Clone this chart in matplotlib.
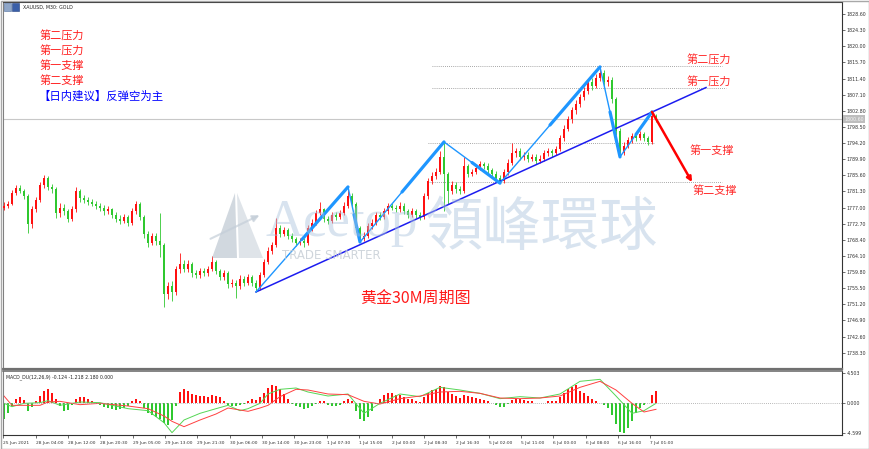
import matplotlib.pyplot as plt
from matplotlib.patches import Polygon, Rectangle
import numpy as np

# ---- data: XAUUSD 30M candles (each drawn candle ~ 1 hour) ----
open0 = 1777.0
close = [
    1777.5, 1778.0, 1781.0, 1782.3, 1781.5, 1780.0, 1772.5, 1776.5, 1779.0, 1783.0,
    1785.0, 1782.5, 1782.0, 1775.5, 1777.0, 1776.0, 1774.0, 1776.5, 1781.5, 1779.5,
    1779.0, 1778.5, 1778.0, 1777.5, 1777.0, 1776.0, 1776.5, 1775.0, 1774.0, 1773.5,
    1774.5, 1773.0, 1776.0, 1778.0, 1774.5, 1770.0, 1767.5, 1769.5, 1768.0, 1767.0,
    1754.0, 1756.0, 1754.5, 1760.5, 1762.0, 1760.5, 1762.0, 1759.5, 1759.0, 1760.0,
    1759.5, 1760.5, 1762.5, 1760.0, 1758.5, 1759.5, 1756.5, 1757.0, 1756.0, 1758.0,
    1757.0, 1758.5, 1757.0, 1755.5, 1759.0, 1762.5, 1765.5, 1767.0, 1771.5, 1770.0,
    1771.0, 1769.5, 1768.5, 1767.5, 1768.0, 1767.5, 1771.5, 1773.0, 1775.5, 1776.5,
    1774.0, 1773.5, 1775.0, 1774.5, 1775.5, 1777.5, 1780.0, 1778.0, 1771.5, 1768.5,
    1769.5, 1772.0, 1773.0, 1775.0, 1774.5, 1776.0, 1777.5, 1777.0, 1776.5, 1777.5,
    1776.0, 1775.0, 1776.0, 1775.0, 1774.5, 1780.0, 1784.0, 1785.5, 1786.5, 1790.5,
    1786.0, 1781.5, 1783.0, 1782.0, 1781.5, 1788.0, 1786.0, 1786.5, 1787.5, 1788.5,
    1788.0, 1787.0, 1786.0, 1785.0, 1784.0, 1786.5, 1789.0, 1791.5, 1792.0, 1790.5,
    1791.0, 1790.0, 1790.5, 1789.5, 1790.0, 1791.5, 1792.0, 1791.5, 1792.5, 1795.5,
    1798.0, 1800.5, 1803.0, 1804.5, 1806.5, 1808.0, 1810.5, 1809.5, 1811.5, 1813.0,
    1810.5, 1811.0, 1806.0, 1797.5, 1791.5, 1793.5, 1795.0, 1796.0, 1795.5, 1796.5,
    1795.5, 1794.5, 1801.5, 1800.6]
high = [
    1778.4, 1778.8, 1781.8, 1783.0, 1783.1, 1782.0, 1780.6, 1777.3, 1779.9, 1783.9,
    1785.6, 1785.4, 1783.4, 1782.6, 1778.2, 1777.9, 1776.7, 1777.3, 1782.5, 1782.0,
    1780.4, 1779.8, 1779.2, 1778.7, 1778.3, 1777.6, 1777.4, 1777.0, 1775.8, 1774.9,
    1775.3, 1775.0, 1776.8, 1778.8, 1778.5, 1775.0, 1770.8, 1770.3, 1770.2, 1775.5,
    1767.5, 1757.1, 1757.5, 1761.4, 1765.0, 1762.9, 1762.9, 1762.6, 1760.3, 1760.8,
    1760.9, 1761.3, 1764.0, 1763.1, 1760.7, 1760.4, 1760.0, 1758.0, 1757.8, 1758.9,
    1758.8, 1759.3, 1759.1, 1757.6, 1759.8, 1763.3, 1766.4, 1767.9, 1774.2, 1772.3,
    1771.8, 1771.6, 1770.3, 1769.2, 1768.9, 1768.8, 1772.3, 1773.9, 1776.3, 1778.5,
    1777.0, 1774.8, 1775.8, 1775.7, 1776.3, 1778.4, 1782.5, 1780.8, 1778.6, 1772.0,
    1770.4, 1772.8, 1773.9, 1775.8, 1775.7, 1776.9, 1778.3, 1778.2, 1777.8, 1778.4,
    1778.1, 1776.7, 1776.8, 1776.6, 1775.8, 1780.9, 1784.8, 1786.4, 1787.6, 1792.0,
    1794.5, 1786.6, 1784.1, 1783.8, 1782.7, 1790.5, 1788.7, 1787.4, 1788.4, 1789.3,
    1789.2, 1788.8, 1787.6, 1786.7, 1785.6, 1787.2, 1789.9, 1794.2, 1793.0, 1792.8,
    1791.9, 1791.7, 1791.3, 1791.2, 1790.9, 1792.3, 1792.9, 1792.7, 1793.3, 1796.3,
    1798.9, 1801.4, 1803.9, 1805.6, 1807.4, 1809.1, 1811.4, 1811.6, 1812.6, 1814.5,
    1813.8, 1812.2, 1811.7, 1806.6, 1798.2, 1794.6, 1795.9, 1797.0, 1796.9, 1797.4,
    1797.2, 1796.2, 1802.5, 1802.0]
low = [
    1776.3, 1776.9, 1777.6, 1780.4, 1780.8, 1779.2, 1770.2, 1771.6, 1775.8, 1778.4,
    1782.1, 1781.7, 1780.9, 1774.3, 1774.6, 1775.0, 1773.1, 1773.3, 1775.9, 1778.6,
    1778.2, 1777.6, 1777.3, 1776.6, 1776.2, 1775.1, 1775.3, 1774.2, 1773.1, 1772.6,
    1772.8, 1772.1, 1772.4, 1775.3, 1773.6, 1769.0, 1766.4, 1766.9, 1767.0, 1763.8,
    1750.5, 1752.5, 1752.0, 1753.8, 1759.6, 1759.7, 1759.8, 1758.6, 1758.1, 1758.3,
    1758.7, 1758.8, 1760.0, 1759.2, 1757.6, 1757.8, 1755.6, 1755.7, 1752.9, 1755.3,
    1756.2, 1756.4, 1756.1, 1754.5, 1755.0, 1758.4, 1761.9, 1764.7, 1766.5, 1769.2,
    1769.3, 1768.6, 1767.7, 1766.7, 1766.9, 1766.6, 1767.0, 1770.8, 1772.4, 1774.9,
    1773.2, 1772.6, 1772.9, 1773.7, 1773.9, 1775.0, 1777.0, 1777.2, 1770.6, 1767.8,
    1768.0, 1769.0, 1771.4, 1772.3, 1773.8, 1774.0, 1775.4, 1776.3, 1775.7, 1775.9,
    1775.2, 1774.3, 1774.4, 1774.1, 1773.7, 1774.0, 1779.4, 1783.2, 1784.6, 1785.9,
    1776.0, 1778.0, 1780.6, 1781.0, 1780.6, 1781.0, 1785.2, 1785.3, 1785.9, 1786.9,
    1787.2, 1786.3, 1785.2, 1784.2, 1783.5, 1783.6, 1785.8, 1788.4, 1790.6, 1789.6,
    1789.8, 1789.2, 1789.3, 1788.7, 1788.8, 1789.4, 1790.8, 1790.6, 1790.9, 1792.0,
    1794.8, 1797.3, 1799.6, 1801.9, 1803.8, 1805.7, 1807.2, 1808.4, 1808.8, 1810.7,
    1809.4, 1809.3, 1804.8, 1796.3, 1790.5, 1790.9, 1792.8, 1794.3, 1794.7, 1794.9,
    1794.8, 1793.7, 1794.0, 1799.9]

# MACD_DU(12,26,9) histogram per candle
hist = [
    -2.4, -1.6, -0.5, 0.6, 0.8, 0.4, -1.2, -0.7, 0.3, 1.0,
    1.7, 2.0, 1.5, 0.6, -0.5, -1.2, -1.1, -0.3, 0.6, 0.9,
    0.8, 0.6, 0.3, -0.1, -0.4, -0.6, -0.8, -1.0, -1.1, -1.0,
    -0.8, -0.5, 0.2, 0.5, 0.2, -0.8, -1.5, -1.8, -2.2, -2.4,
    -3.0, -3.3, -2.6, -0.5, 1.6, 2.0, 1.7, 1.3, 1.1, 1.0,
    1.0, 0.9, 1.1, 1.0, 0.8, 0.3, -0.3, -0.5, -0.5, -0.4,
    -0.2, 0.3, 0.6, 0.4, 0.8, 1.4, 2.2, 2.7, 2.5, 2.0,
    1.3, 0.5, -0.2, -0.5, -0.6, -0.9, -0.8, -0.5, -0.2, 0.3,
    0.2, -0.3, -0.5, -0.5, -0.3, 0.2, 0.6, 0.3, -1.2, -2.4,
    -2.8, -2.2, -1.2, -0.2, 0.6, 1.2, 1.5, 1.4, 1.2, 1.2,
    0.9, 0.6, 0.5, 0.3, 0.1, 0.8, 1.5, 1.9, 2.1, 2.5,
    2.3, 1.6, 1.3, 1.0, 0.7, 1.1, 1.0, 0.8, 0.7, 0.6,
    0.4, 0.2, -0.1, -0.4, -0.7, -0.6, -0.2, 0.4, 0.6, 0.5,
    0.4, 0.3, 0.2, 0.0, -0.1, 0.0, 0.2, 0.2, 0.3, 0.8,
    1.4, 2.0, 2.4, 2.6, 1.8, 1.4, 1.0, 0.6, 0.2, -0.1,
    -0.3, -0.8, -1.8, -3.2, -4.4, -4.6, -3.8, -2.8, -1.6, -0.8,
    -0.3, -0.1, 1.2, 1.8]
line_idx = [0, 2, 5, 9, 11, 14, 19, 24, 31, 36, 40, 42, 45, 49, 53, 56, 59, 61, 64, 66, 69,
            73, 76, 81, 86, 90, 94, 99, 104, 109, 114, 119, 124, 129, 134, 139, 144, 149,
            153, 157, 160, 163]
macd_main = [-0.1, -0.6, -0.1, 0.0, 0.3, -0.4, 0.1, 0.0, -0.9, -1.2, -3.0, -4.5, -2.6, -1.6,
             -0.9, -0.4, -1.2, -0.9, -0.1, 1.3, 2.0, 2.2, 1.6, 1.0, 1.3, -1.6, -0.1, 1.3,
             0.9, 2.3, 1.9, 1.4, 0.6, 0.9, 0.7, 1.3, 3.2, 3.5, 1.0, -1.6, -1.2, -0.1]
macd_signal = [1.0, -0.4, -0.4, -0.4, 0.1, 0.2, -0.3, -0.1, -0.5, -0.9, -2.0, -2.8, -3.6, -2.6,
               -1.7, -0.8, -1.1, -1.3, -0.8, -0.4, 0.9, 2.0, 1.9, 1.3, 1.2, 0.2, -0.2, 0.6,
               1.0, 1.6, 1.7, 1.4, 0.7, 0.6, 0.7, 1.0, 2.3, 3.2, 1.9, -0.1, -1.4, -1.0]

price_ticks = [1828.60, 1824.30, 1820.00, 1815.70, 1811.40, 1807.10, 1802.80, 1798.50,
               1794.20, 1789.90, 1785.60, 1781.30, 1777.00, 1772.70, 1768.40, 1764.10,
               1759.80, 1755.50, 1751.20, 1746.90, 1742.60, 1738.30]
time_labels = ['25 Jun 2021', '28 Jun 04:00', '28 Jun 12:00', '28 Jun 20:30', '29 Jun 05:00',
               '29 Jun 13:00', '29 Jun 21:30', '30 Jun 06:00', '30 Jun 14:00', '30 Jun 23:00',
               '1 Jul 07:30', '1 Jul 15:00', '2 Jul 00:00', '2 Jul 08:30', '2 Jul 16:30',
               '5 Jul 02:00', '5 Jul 11:00', '6 Jul 00:00', '6 Jul 08:00', '6 Jul 16:00',
               '7 Jul 01:00']

# analysis drawings (candle index, price)
zz_idx = [63, 86, 89, 110, 124, 149, 154, 162]
zz_price = [1754.5, 1782.5, 1767.8, 1794.5, 1783.5, 1814.5, 1790.5, 1802.5]
trend_idx = [63, 175.5]
trend_price = [1754.5, 1809.0]
arrow_idx = [162, 172]
arrow_price = [1802.5, 1783.8]
level_names = ['第二压力', '第一压力', '第一支撑', '第二支撑']
level_prices = [1814.7, 1808.9, 1794.2, 1783.9]
level_from = [107, 107, 106, 106]
level_to = [179.5, 180.5, 162.5, 179.5]
notes = ['第二压力', '第一压力', '第一支撑', '第二支撑']
advice = '【日内建议】反弹空为主'

UP, DOWN = '#ff1010', '#2fc82f'
CJK = ['Noto Sans CJK SC', 'DejaVu Sans']
W, H = 870, 449


def frac(x0, y0, x1, y1):
    return [x0 / W, 1 - y1 / H, (x1 - x0) / W, (y1 - y0) / H]


fig = plt.figure(figsize=(8.7, 4.49), dpi=100, facecolor='white')
ax = fig.add_axes(frac(3, 2, 842, 369))
mx = fig.add_axes(frac(3, 371, 842, 435), sharex=ax)

# candles
idx = np.arange(len(close))
c = np.array(close)
o = np.array([open0] + close[:-1])
col = np.where(c >= o, UP, DOWN)
ax.vlines(idx, low, high, colors=col, lw=0.6, zorder=3)
ax.bar(idx, np.maximum(np.abs(c - o), 0.15), bottom=np.minimum(o, c), width=0.55,
       color=col, lw=0, zorder=3)

ax.axhline(close[-1], color='#c8c8c8', lw=0.8, zorder=1)
for p, a, b in zip(level_prices, level_from, level_to):
    ax.hlines(p, a, b, colors='#8a8a8a', linestyles=(0, (1, 1.5)), lw=0.6, zorder=2)

# trend line and zigzag
ax.plot(trend_idx, trend_price, color='#1c1cf0', lw=1.1, zorder=4)
for i in range(len(zz_idx) - 1):
    x0, x1 = zz_idx[i], zz_idx[i + 1]
    y0, y1 = zz_price[i], zz_price[i + 1]
    ax.plot([x0, x1], [y0, y1], color='#1e96ff', lw=1.0, zorder=5, solid_capstyle='round')
    ax.plot([(x0 + x1) / 2, x1], [(y0 + y1) / 2, y1], color='#1e96ff', lw=2.3, zorder=5,
            solid_capstyle='round')
ax.annotate('', xy=(arrow_idx[1], arrow_price[1]), xytext=(arrow_idx[0], arrow_price[0]),
            arrowprops=dict(arrowstyle='-|>', color='#ff0000', lw=1.8, mutation_scale=7,
                            shrinkA=0, shrinkB=0), zorder=6)

ax.set_xlim(-0.25, 209.5)
ax.set_ylim(1733.96, 1831.8)
ax.yaxis.tick_right()
ax.set_yticks(price_ticks)
ax.set_yticklabels([f'{v:.2f}' for v in price_ticks])
ax.tick_params(axis='y', labelsize=3.4, length=2.5, width=0.5, pad=1, colors='#333333')
ax.tick_params(axis='x', bottom=False, labelbottom=False)
ax.text(1.003, close[-1], f'{close[-1]:.2f}', transform=ax.get_yaxis_transform(),
        fontsize=3.4, color='#f4f4f4', va='center', ha='left',
        bbox=dict(boxstyle='square,pad=0.25', fc='#bdbdbd', ec='none'))

# MACD panel
mx.bar(idx, hist, width=0.5, color=np.where(np.array(hist) >= 0, UP, DOWN), lw=0)
mx.plot(line_idx, macd_main, color='#55d655', lw=0.7)
mx.plot(line_idx, macd_signal, color='#ff4040', lw=0.7)
mx.axhline(0, color='#a0a0a0', ls=(0, (1, 1.5)), lw=0.6)
mx.set_ylim(-4.85, 4.75)
mx.yaxis.tick_right()
mx.set_yticks([4.503, 0.0, -4.599])
mx.set_yticklabels(['4.503', '0.000', '-4.599'])
mx.tick_params(axis='y', labelsize=3.4, length=2.5, width=0.5, pad=1, colors='#333333')
mx.set_xticks(np.arange(len(time_labels)) * 8.09 - 0.2)
mx.set_xticklabels(time_labels, ha='left')
mx.tick_params(axis='x', labelsize=3.2, length=2.5, width=0.5, pad=1.5, colors='#333333')
mx.text(0.003, 0.9, 'MACD_DU(12,26,9) -0.124 -1.218 2.180 0.000', transform=mx.transAxes,
        fontsize=3.3, va='center', color='#222222')

for a in (ax, mx):
    for s in a.spines.values():
        s.set_linewidth(0.8)
        s.set_color('#333333')
    a.spines['left'].set_color('#808080')
ax.spines['bottom'].set_linewidth(1.6)
ax.spines['bottom'].set_color('#707070')
mx.spines['top'].set_linewidth(1.2)
mx.spines['top'].set_color('#707070')

# overlay in pixel coordinates for texts and watermark
ov = fig.add_axes([0, 0, 1, 1], zorder=10)
ov.set_xlim(0, W)
ov.set_ylim(H, 0)
ov.axis('off')
ov.patch.set_alpha(0)

ov.add_patch(Rectangle((0.5, 0.5), W - 1, H - 1, fill=False, ec='#a8a8a8', lw=1))
ov.add_patch(Rectangle((4, 3), 7, 8, fc='#8fa6c8', ec='#5070a0', lw=0.4))
ov.add_patch(Rectangle((12, 3), 7, 8, fc='#3a5fa8', ec='#203f80', lw=0.4))
ov.text(23, 7.2, 'XAUUSD, M30: GOLD', fontsize=3.4, va='center', color='#222222')

# watermark
wm = '#a9c3dc'
ov.add_patch(Polygon([(212, 258), (235, 193), (237, 258)], closed=True, fc='#9aa9b8',
                     ec='none', alpha=0.45))
ov.add_patch(Polygon([(239, 258), (237, 193), (263, 258)], closed=True, fc='#b8c4d0',
                     ec='none', alpha=0.45))
ov.annotate('', xy=(262, 214), xytext=(208, 240),
            arrowprops=dict(arrowstyle='-|>', color='#c4ced8', lw=1.5, alpha=0.7))
ov.text(266, 236, 'Acetop', fontsize=38, family='Liberation Serif', color=wm, alpha=0.45,
        va='baseline', ha='left')
ov.text(282, 249, 'TRADE SMARTER', fontsize=8.5, color='#c3cbd3', alpha=0.8,
        va='top', ha='left')
ov.text(424, 228, '領峰環球', fontsize=42, family=['Noto Sans CJK TC', 'DejaVu Sans'],
        color=wm, alpha=0.45, va='center', ha='left')

# notes
for k, t in enumerate(notes):
    ov.text(40, 36 + 15 * k, t, fontsize=8, family=CJK, color='#ff2020', va='center')
ov.text(38, 96, advice, fontsize=8.2, family=CJK, color='#0000ff', va='center')
for t, (px, py) in zip(level_names, [(687, 60), (687, 82), (690, 151), (693, 191)]):
    ov.text(px, py, t, fontsize=8, family=CJK, color='#ff2a2a', va='center')
ov.text(360, 299, '黄金30M周期图', fontsize=11.5, family=CJK, color='#ff1a1a', va='center')

fig.savefig('out.png', dpi=100)
